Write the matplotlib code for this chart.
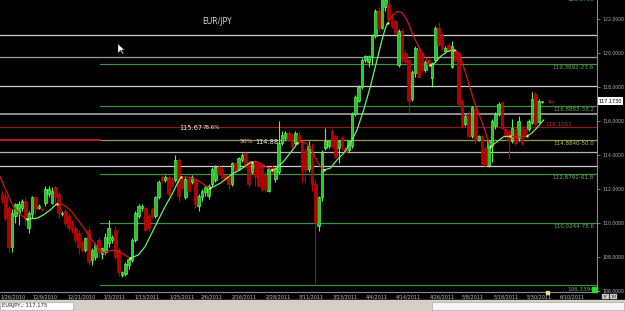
import numpy as np
import matplotlib.pyplot as plt
from matplotlib.patches import Rectangle, Polygon

# EUR/JPY daily candles, bar 0 = late Nov 2010, last bar = end of May 2011
opens = [111.7, 111.6, 110.9, 108.6, 110.4, 110.6, 110.9, 111.3, 109.7, 110.5,
         111.5, 110.9, 110.85, 111.2, 111.7, 111.2, 112.1, 111.7, 110.5, 110.7,
         110.4, 110.1, 109.7, 109.4, 108.9, 108.4, 109.6, 107.8, 108.0, 109.0,
         108.2, 108.3, 108.8, 109.0, 109.6, 108.4, 106.95, 107.0, 107.5, 107.8,
         109.0, 110.4, 110.9, 110.9, 110.4, 110.8, 110.4, 111.5, 112.7, 112.5,
         112.7, 112.6, 112.5, 113.7, 112.6, 111.5, 112.6, 112.4, 112.5, 111.0,
         111.5, 111.8, 111.6, 112.3, 112.5, 113.3, 113.2, 112.8, 112.7, 112.3,
         113.5, 113.2, 113.7, 114.1, 113.6, 113.0, 113.6, 113.5, 113.4, 112.8,
         111.9, 113.3, 112.6, 113.0, 114.7, 115.0, 115.3, 115.2, 114.7, 115.2,
         114.8, 114.3, 113.2, 114.1, 112.3, 109.8, 111.5, 114.4, 114.5, 115.4,
         115.1, 114.4, 115.0, 114.4, 114.3, 114.5, 116.4, 117.2, 118.0, 119.6,
         119.5, 119.8, 121.0, 122.5, 121.5, 122.7, 122.9, 122.1, 121.9, 119.3,
         121.3, 120.0, 119.6, 117.3, 118.8, 120.2, 119.8, 119.0, 119.6, 118.5,
         119.6, 121.5, 121.1, 120.1, 120.5, 119.2, 120.2, 120.0, 117.2, 115.8,
         116.4, 115.1, 116.7, 114.9, 115.1, 114.4, 113.4, 114.5, 115.7, 116.4,
         117.1, 115.5, 115.4, 114.8, 115.5, 115.0, 115.6, 115.5, 115.5, 115.9,
         117.6, 115.96, 117.1]
highs = [111.9, 111.8, 111.0, 110.8, 111.2, 111.3, 111.4, 111.5, 110.7, 111.6,
         111.6, 111.1, 110.95, 112.2, 112.2, 112.1, 112.2, 111.8, 110.7, 110.8,
         110.6, 110.2, 109.9, 109.6, 109.0, 109.2, 109.8, 108.5, 108.8, 109.2,
         108.6, 109.4, 110.2, 109.3, 109.8, 108.5, 107.2, 107.7, 108.0, 109.1,
         110.7, 111.1, 111.1, 111.0, 110.6, 110.95, 111.6, 112.5, 112.8, 112.8,
         112.8, 112.7, 114.0, 113.8, 112.7, 112.7, 112.7, 112.8, 112.6, 111.7,
         112.0, 112.2, 112.3, 113.3, 113.4, 113.4, 113.3, 112.9, 112.8, 113.6,
         113.6, 113.9, 114.1, 114.2, 113.7, 113.6, 113.7, 113.6, 113.5, 113.0,
         113.3, 113.4, 113.3, 116.0, 115.4, 115.4, 115.4, 115.3, 115.4, 115.4,
         114.9, 114.4, 114.8, 114.7, 112.6, 111.6, 114.3, 115.6, 114.9, 115.5,
         115.2, 114.9, 115.1, 114.5, 114.9, 116.5, 117.5, 118.1, 119.7, 119.9,
         119.9, 121.1, 122.6, 122.7, 123.5, 123.4, 123.2, 122.3, 122.0, 121.4,
         121.4, 120.2, 119.7, 119.0, 120.4, 120.3, 120.0, 119.6, 119.7, 119.5,
         121.6, 121.8, 121.2, 120.4, 120.6, 120.7, 120.3, 120.1, 117.3, 116.4,
         116.6, 116.9, 116.8, 115.2, 115.2, 114.5, 114.9, 116.1, 116.5, 117.1,
         117.2, 115.6, 115.5, 116.1, 115.6, 116.3, 115.7, 115.6, 116.1, 117.7,
         117.7, 117.3, 117.2]
lows = [111.2, 110.1, 108.3, 108.3, 110.0, 109.9, 110.7, 109.8, 109.4, 110.3,
        110.6, 110.8, 110.7, 111.0, 111.5, 111.1, 111.2, 110.3, 110.4, 109.8,
        109.5, 109.4, 108.8, 108.2, 108.3, 108.3, 107.5, 107.5, 107.8, 108.0,
        107.9, 108.2, 108.6, 108.8, 107.9, 106.9, 106.8, 106.9, 107.3, 107.7,
        108.9, 110.3, 110.7, 109.5, 109.5, 110.3, 110.3, 111.4, 112.4, 112.4,
        111.6, 112.1, 112.4, 111.3, 112.0, 111.4, 111.8, 112.3, 110.9, 110.7,
        111.3, 111.6, 111.4, 112.1, 112.4, 112.8, 112.6, 112.5, 112.0, 112.2,
        113.0, 113.1, 113.6, 113.2, 112.1, 112.9, 112.2, 112.1, 111.9, 111.8,
        111.8, 112.9, 112.4, 112.9, 114.6, 114.9, 114.8, 114.4, 114.6, 114.7,
        112.4, 112.4, 113.0, 111.9, 106.45, 109.5, 111.3, 114.3, 114.4, 114.4,
        113.8, 113.5, 114.3, 114.1, 114.2, 114.4, 116.3, 117.1, 117.9, 119.5,
        119.2, 119.3, 120.9, 121.3, 121.4, 122.5, 121.9, 121.5, 121.1, 119.2,
        119.5, 119.4, 116.45, 117.2, 118.6, 118.5, 118.9, 118.9, 119.2, 118.0,
        119.5, 120.4, 120.2, 120.0, 120.1, 119.1, 119.5, 116.9, 115.6, 115.7,
        115.0, 115.0, 114.7, 114.8, 113.4, 113.3, 113.3, 113.6, 115.5, 116.3,
        115.5, 115.0, 113.8, 114.7, 114.6, 114.8, 114.6, 115.0, 115.4, 115.8,
        115.7, 115.9, 117.05]
closes = [111.4, 110.3, 108.6, 110.6, 111.1, 111.1, 111.3, 110.3, 110.6, 111.5,
          110.8, 111.0, 110.75, 112.0, 112.0, 111.9, 111.5, 110.6, 110.6, 110.0,
          109.7, 109.6, 109.0, 108.6, 108.4, 109.1, 107.7, 108.4, 108.7, 108.3,
          108.5, 109.2, 109.7, 109.2, 108.0, 107.1, 107.1, 107.6, 107.9, 109.0,
          110.6, 111.0, 111.0, 109.6, 109.7, 110.4, 111.5, 112.4, 112.5, 112.7,
          111.7, 112.2, 113.7, 111.6, 112.1, 112.6, 111.9, 112.7, 111.1, 111.6,
          111.9, 112.1, 112.2, 113.2, 113.3, 112.9, 112.7, 112.6, 112.3, 113.5,
          113.1, 113.8, 114.0, 113.3, 112.3, 113.5, 112.7, 112.2, 112.0, 112.0,
          113.2, 113.0, 113.2, 114.7, 115.2, 115.3, 114.9, 114.5, 115.3, 114.8,
          113.1, 113.1, 114.5, 112.3, 110.0, 111.5, 114.1, 114.8, 114.8, 114.5,
          113.9, 114.8, 114.5, 114.2, 114.8, 116.4, 117.4, 118.0, 119.6, 119.8,
          119.8, 121.0, 122.5, 121.5, 123.1, 123.1, 122.0, 121.6, 121.2, 121.3,
          119.6, 119.5, 117.2, 118.9, 120.3, 118.6, 119.0, 119.5, 119.3, 119.4,
          121.5, 120.5, 120.3, 120.3, 120.2, 120.4, 119.6, 117.0, 115.7, 116.3,
          115.1, 116.8, 114.9, 115.1, 113.5, 113.4, 114.8, 116.0, 116.4, 117.0,
          115.6, 115.1, 114.9, 115.6, 114.7, 116.0, 114.7, 115.1, 116.0, 117.3,
          115.8, 117.2, 117.175]

# trend line (red/green segments, yellow dots where the colour flips)
ma_bars = [-0.6, 1.5, 3.4, 5.5, 7.4, 10.4, 12.4, 14.4, 16.4, 18.0, 19.4, 21.0,
           22.4, 24.4, 26.4, 28.4, 30.4, 32.0, 33.4, 35.4, 37.0, 38.4, 40.9,
           42.9, 44.9, 46.9, 48.9, 50.9, 52.4, 53.7, 55.0, 57.4, 58.9, 60.9,
           62.4, 65.4, 67.4, 69.4, 71.4, 73.4, 74.9, 76.4, 78.4, 79.9, 80.9,
           82.4, 84.4, 86.4, 87.9, 88.6, 89.9, 91.4, 92.9, 94.4, 95.5, 96.5,
           98.5, 100.5, 102.5, 104.5, 106.5, 108.5, 110.5, 112.5, 114.0, 115.0,
           115.7, 117.0, 118.5, 120.0, 121.5, 123.5, 125.5, 127.5, 128.5,
           129.5, 131.5, 133.5, 135.5, 137.0, 138.5, 140.0, 141.5, 143.0,
           144.5, 145.5, 146.5, 148.5, 150.5, 152.5, 155.0, 157.5, 159.0,
           160.5, 162.5]
ma_vals = [112.72, 111.8, 110.96, 110.5, 110.23, 110.27, 110.47, 110.76, 111.12,
           111.1, 110.96, 110.65, 110.27, 109.74, 109.19, 108.6, 108.25, 108.35,
           108.4, 108.3, 108.1, 107.92, 108.12, 108.6, 109.39, 110.18, 110.96,
           111.65, 112.24, 112.7, 112.72, 112.62, 112.5, 112.2, 112.04, 112.33,
           112.63, 112.92, 113.12, 113.41, 113.6, 113.62, 113.41, 113.22, 113.12,
           113.22, 113.61, 114.1, 114.49, 114.7, 114.78, 114.68, 114.29, 113.7,
           113.31, 113.12, 113.22, 113.71, 114.1, 114.69, 115.47, 116.65, 118.02,
           119.59, 120.77, 121.45, 121.78, 122.2, 122.45, 122.38, 121.94, 120.96,
           120.18, 119.6, 119.3, 119.35, 119.79, 120.08, 120.18, 119.98, 119.2,
           118.22, 117.24, 116.45, 115.67, 115.08, 114.49, 114.78, 115.08, 115.1,
           115.05, 115.1, 115.3, 115.6, 116.06]
ma_flips = [7.4, 16.4, 38.4, 53.7, 62.4, 74.9, 80.9, 88.6, 96.5, 115.7, 128.5,
            135.5, 146.5, 152.5, 157.5]

# horizontal levels
grey_levels = [121.06, 119.765, 118.06, 116.41, 114.18, 113.35]
grey_colors = ['#cfcfcf', '#9a9a9a', '#cfcfcf', '#8c8c8c', '#b8b8b8', '#cfcfcf']
red_level = 115.65
fib_levels = [119.3692, 116.8883, 114.884, 112.8792, 110.0244, 106.3394]
fib_labels = ['119.3692-23.6', '116.8883-38.2', '114.8840-50.0',
              '112.8792-61.8', '110.0244-78.6', '106.3394']
fib_top = 123.379
last_price = 117.175
last_quote = '117.1730'

price_ticks = [106, 108, 110, 112, 114, 116, 118, 120, 122]
date_pos = [3.4, 13.0, 23.8, 33.6, 43.4, 53.9, 63.0, 72.6, 82.8, 92.7, 102.9,
            112.5, 122.0, 132.2, 141.3, 151.2, 161.0, 171.2]
date_labels = ['1/26/2010', '12/9/2010', '12/21/2010', '1/3/2011', '1/13/2011',
               '1/25/2011', '2/6/2011', '2/16/2011', '2/28/2011', '3/11/2011',
               '3/23/2011', '4/4/2011', '4/14/2011', '4/26/2011', '5/8/2011',
               '5/18/2011', '5/30/2011', '6/10/2011']

W, H = 625, 311
fig = plt.figure(figsize=(W / 100, H / 100), dpi=100, facecolor='black')
ax = fig.add_axes([0, 19 / H, 597 / W, 292 / H])
ax.set_facecolor('black')
ax.set_xlim(-0.6, 178.5)
ax.set_ylim(105.94, 123.118)


def fx(px):
    return px / W


def fy(py):
    return 1 - py / H


# levels
for lv, col in zip(grey_levels, grey_colors):
    ax.axhline(lv, color=col, lw=1.4 if col == '#8c8c8c' else 0.9, zorder=1)
ax.axhline(red_level, color='#8a1c1c', lw=0.9, zorder=1)
fib_start = 29.4
for lv in fib_levels:
    col = '#9a9a3a' if lv == 114.884 else '#3f8f3f'
    ax.plot([fib_start, 178.5], [lv, lv], color=col, lw=0.9, zorder=1)
ax.plot([-0.6, fib_start], [114.884, 114.884], color='#c81e1e', lw=1.3, zorder=1)

# candles
o = np.array(opens)
hi = np.array(highs)
lo = np.array(lows)
c = np.array(closes)
idx = np.arange(len(c))
up = c >= o
dn = ~up
body = np.maximum(np.abs(c - o), 0.05)
ax.vlines(idx[up], lo[up], hi[up], color='#5cf25c', lw=0.8, zorder=3)
ax.vlines(idx[dn], lo[dn], hi[dn], color='#c80000', lw=0.8, zorder=3)
ax.bar(idx[up], body[up], bottom=np.minimum(o, c)[up], width=0.72,
       color='#22c822', edgecolor='#7dff7d', lw=0.4, zorder=4)
ax.bar(idx[dn], body[dn], bottom=np.minimum(o, c)[dn], width=0.72,
       color='#b40000', edgecolor='#cc1010', lw=0.4, zorder=4)

# trend line
mb = np.array(ma_bars)
mv = np.array(ma_vals)
edges = [mb[0]] + ma_flips + [mb[-1]]
for k in range(len(edges) - 1):
    sel = (mb >= edges[k]) & (mb <= edges[k + 1])
    col = '#d01818' if k % 2 == 0 else '#6cf06c'
    ax.plot(mb[sel], mv[sel], color=col, lw=0.9, zorder=5)
flip_vals = [mv[list(mb).index(f)] for f in ma_flips]
ax.plot(ma_flips, flip_vals, ls='none', marker='s', ms=1.6, color='#ffff70',
        mec='none', zorder=6)

# axes styling
for s in ['top', 'left']:
    ax.spines[s].set_visible(False)
ax.spines['right'].set_color('#8a8a8a')
ax.spines['bottom'].set_color('#8a8a8a')
ax.yaxis.tick_right()
ax.set_yticks(price_ticks, labels=['%.4f' % p for p in price_ticks])
ax.tick_params(axis='y', colors='#8a8a8a', labelcolor='#b4b4b4', labelsize=3.3,
               length=2, width=0.6, pad=2)
ax.set_xticks(date_pos, labels=date_labels)
ax.tick_params(axis='x', length=0, labelcolor='#c4c4c4', labelsize=3.5, pad=1.5)

# fib labels
ytr = ax.get_yaxis_transform()
for lv, lab in zip(fib_levels, fib_labels):
    col = '#b8b860' if lv == 114.884 else '#5fae5f'
    ax.text(0.995, lv - 0.08, lab, transform=ytr, ha='right', va='top',
            color=col, fontsize=4.1, zorder=7)
ax.text(0.995, fib_top - 0.08, '123.3790', transform=ytr, ha='right', va='top',
        color='#5fae5f', fontsize=4.1, clip_on=True)

# labels inside the chart
fig.text(fx(202), fy(22), 'EUR/JPY', color='#d8d8d8', fontsize=5.5, va='center')
fig.text(fx(179), fy(127.5), '115.67', color='#e6e6e6', fontsize=4.8, va='center')
fig.text(fx(203), fy(127.5), '78.6%', color='#e6e6e6', fontsize=4.0, va='center')
fig.text(fx(240), fy(141.5), '50%', color='#c8c8c8', fontsize=4.4, va='center')
fig.text(fx(255), fy(142.5), '114.88', color='#e6e6e6', fontsize=4.8, va='center')
fig.text(fx(545), fy(125), '116.1051', color='#d03030', fontsize=4.1, va='center')
fig.text(fx(548), fy(101), '\u21d0', color='#c03030', fontsize=6, va='center')

# last price box on the price scale
ax.text(1.003, last_price, last_quote, transform=ytr,
        ha='left', va='center', color='black', fontsize=3.5, clip_on=False,
        bbox=dict(boxstyle='square,pad=0.25', fc='white', ec='none'))

# small markers on the edges
fig.add_artist(Rectangle((fx(592), fy(292)), 5 / W, 5 / H, color='#22e022',
                         transform=fig.transFigure))
fig.add_artist(Rectangle((fx(546), fy(294)), 3 / W, 3 / H, color='#e8e070',
                         transform=fig.transFigure))

# mouse pointer
cur = np.array([[118, 44], [118, 53], [120.5, 50.5], [122.5, 54], [123.5, 53.5],
                [121.5, 50], [124.5, 50]])
fig.add_artist(Polygon(np.column_stack([cur[:, 0] / W, 1 - cur[:, 1] / H]),
                       closed=True, fc='white', ec='#303030', lw=0.3,
                       transform=fig.transFigure))

# period buttons
for x0, lab in [(602, '3Y'), (610, '1M')]:
    fig.text(fx(x0 + 3.5), fy(296.5), lab, color='#202020', fontsize=3.0,
             ha='center', va='center',
             bbox=dict(boxstyle='square,pad=0.12', fc='#d8d8d8', ec='#909090',
                       lw=0.3))

# status strip at the bottom
fig.add_artist(Rectangle((0, 0), 1, 11 / H, color='#d4d0c8',
                         transform=fig.transFigure))
fig.add_artist(Rectangle((0, fy(309.5)), 73 / W, 7.5 / H, fc='white',
                         ec='#a0a0a0', lw=0.4, transform=fig.transFigure))
fig.add_artist(Rectangle((fx(432), fy(310)), 192 / W, 8 / H, fc='#f4f4f4',
                         ec='#a0a0a0', lw=0.4, transform=fig.transFigure))
fig.text(fx(2), fy(305.5), 'EURJPY,: %.3f' % last_price, color='#202020',
         fontsize=3.8, va='center')

fig.savefig('out.png', dpi=100, facecolor='black')
